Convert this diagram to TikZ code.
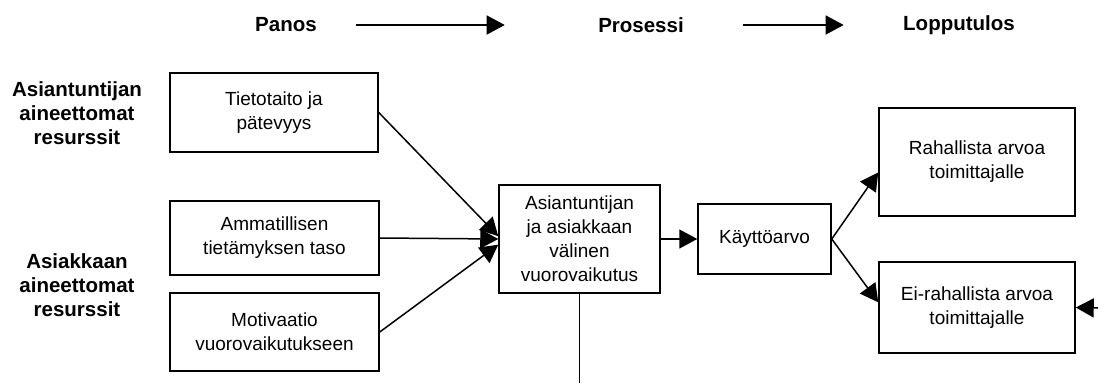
\documentclass[tikz,border=0pt]{standalone}
\usepackage{fontspec}
\setmainfont{Liberation Sans}
\usetikzlibrary{arrows.meta}
\tikzstyle{laatikko} = [draw, line width=1.5pt, rectangle, align=center, inner sep=0pt, font=\fontsize{19}{24}\selectfont]
\tikzstyle{otsikko} = [align=center, font=\bfseries\fontsize{20.5}{24}\selectfont]
\tikzstyle{nuoli} = [line width=1.5pt, -{Triangle[length=18pt,width=19pt]}]

\begin{document}
\begin{tikzpicture}[x=1pt,y=1pt]
	\useasboundingbox (0,0) rectangle (1098,-383);
	% otsikot
	\node[otsikko](panos) at (286,-25) {Panos};
	\node[otsikko](prosessi) at (641,-25) {Prosessi};
	\node[otsikko](lopputulos) at (959,-25) {Lopputulos};
	\draw[nuoli, shorten <=36pt, shorten >=90pt] (panos) -- (prosessi);
	\draw[nuoli, shorten <=56pt, shorten >=56pt] (prosessi) -- (lopputulos);
	\node[otsikko](asiantuntija) at (77,-113) {Asiantuntijan\\aineettomat\\resurssit};
	\node[otsikko](asiakas) at (77,-285) {Asiakkaan\\aineettomat\\resurssit};
	% laatikot
	\node[laatikko, minimum width=208pt, minimum height=79pt](tieto) at (274,-112.5) {Tietotaito ja\\pätevyys};
	\node[laatikko, minimum width=209pt, minimum height=74pt](amm) at (274.5,-238) {Ammatillisen\\tietämyksen taso};
	\node[laatikko, minimum width=209pt, minimum height=78pt](moti) at (274.5,-332) {Motivaatio\\vuorovaikutukseen};
	\node[laatikko, minimum width=161pt, minimum height=108pt](vuoro) at (579.5,-239) {Asiantuntijan\\ja asiakkaan\\välinen\\vuorovaikutus};
	\node[laatikko, minimum width=133pt, minimum height=70pt](kaytto) at (764.5,-239) {Käyttöarvo};
	\node[laatikko, minimum width=196pt, minimum height=108pt](rah) at (977,-162) {Rahallista arvoa\\toimittajalle};
	\node[laatikko, minimum width=196pt, minimum height=91pt](ei) at (977,-307.5) {Ei-rahallista arvoa\\toimittajalle};
	% nuolet
	\draw[nuoli] (tieto.east) -- (vuoro.178);
	\draw[nuoli] (amm.east) -- (vuoro.west);
	\draw[nuoli] (moti.east) -- (vuoro.184);
	\draw[nuoli] (vuoro.east) -- (kaytto.west);
	\draw[nuoli] (kaytto.east) -- (rah.186);
	\draw[nuoli] (kaytto.east) -- (ei.177);
	\coordinate (oikea) at (1098,-308);
	\draw[nuoli] (oikea) -- (ei.east);
	\coordinate (ala) at (vuoro.south |- 0,-383);
	\draw[line width=1.5pt] (vuoro.south) -- (ala);
\end{tikzpicture}
\end{document}
